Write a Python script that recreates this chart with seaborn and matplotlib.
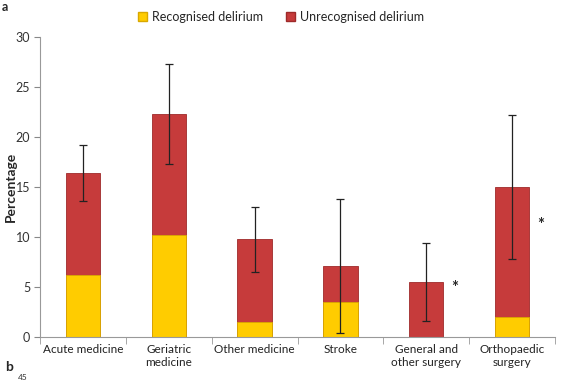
import matplotlib.pyplot as plt
import seaborn as sns
import pandas as pd
import numpy as np

# data
wards = ["Acute medicine", "Geriatric\nmedicine", "Other medicine", "Stroke",
         "General and\nother surgery", "Orthopaedic\nsurgery"]
recognised = [6.2, 10.2, 1.5, 3.5, 0.0, 2.0]
total = [16.4, 22.3, 9.8, 7.1, 5.5, 15.0]
err_low = [13.6, 17.3, 6.5, 0.4, 1.6, 7.8]
err_high = [19.2, 27.3, 13.0, 13.8, 9.4, 22.2]
star_ward = [4, 5]
star_y = [4.9, 11.2]

df = pd.DataFrame({"ward": wards, "recognised": recognised, "total": total})

sns.set_style("white")
plt.rcParams["font.family"] = ["Lato", "DejaVu Sans"]

red = "#C63B3B"
yellow = "#FFCC00"

fig = plt.figure(figsize=(5.62, 3.81), dpi=100)
ax = fig.add_axes([40 / 562, 44 / 381, 515 / 562, 300 / 381])

sns.barplot(data=df, x="ward", y="total", color=red, width=0.4, ax=ax,
            edgecolor="#9E2A2A", linewidth=0.6, saturation=1)
sns.barplot(data=df, x="ward", y="recognised", color=yellow, width=0.4, ax=ax,
            edgecolor="#D9A800", linewidth=0.6, saturation=1)

x = np.arange(len(wards))
mid = [(lo + hi) / 2 for lo, hi in zip(err_low, err_high)]
half = [(hi - lo) / 2 for lo, hi in zip(err_low, err_high)]
ax.errorbar(x, mid, yerr=half, fmt="none", ecolor="#222222", elinewidth=0.9,
            capsize=3, capthick=0.9)

for i, yv in zip(star_ward, star_y):
    ax.text(i + 0.33, yv, "*", fontsize=12, fontweight="bold", ha="center", va="center")

ax.set_xlim(-0.5, 5.5)
ax.set_ylim(0, 30)
ax.set_yticks(range(0, 31, 5))
ax.set_xlabel("")
ax.set_ylabel("Percentage", fontsize=10, fontweight="bold")
ax.yaxis.set_label_coords(-0.045, 0.5)
ax.tick_params(axis="y", left=True, length=4, color="#888888", labelsize=9,
               labelcolor="#333333", pad=3)
ax.tick_params(axis="x", which="major", length=0, labelsize=8.5, labelcolor="#222222", pad=5)
ax.set_xticks(np.arange(-0.5, 6, 1), minor=True)
ax.tick_params(axis="x", which="minor", bottom=True, length=5, color="#999999")

for s in ["top", "right"]:
    ax.spines[s].set_visible(False)
for s in ["left", "bottom"]:
    ax.spines[s].set_color("#999999")
    ax.spines[s].set_linewidth(0.8)

handles = [plt.Rectangle((0, 0), 1, 1, fc=yellow, ec="#D9A800"),
           plt.Rectangle((0, 0), 1, 1, fc=red, ec="#9E2A2A")]
fig.legend(handles, ["Recognised delirium", "Unrecognised delirium"],
           loc="center", bbox_to_anchor=(0.5, 1 - 17 / 381), ncol=2, frameon=False,
           fontsize=9, handlelength=0.7, handleheight=0.7, columnspacing=1.8,
           handletextpad=0.4)

fig.text(2 / 562, 1 - 7 / 381, "a", fontsize=9, fontweight="bold", va="center")
fig.text(5 / 562, 1 - 367 / 381, "b", fontsize=10, fontweight="bold", va="center")
fig.text(18 / 562, 0, "45", fontsize=6, color="#333333", va="bottom")

fig.savefig("out.png", dpi=100)
